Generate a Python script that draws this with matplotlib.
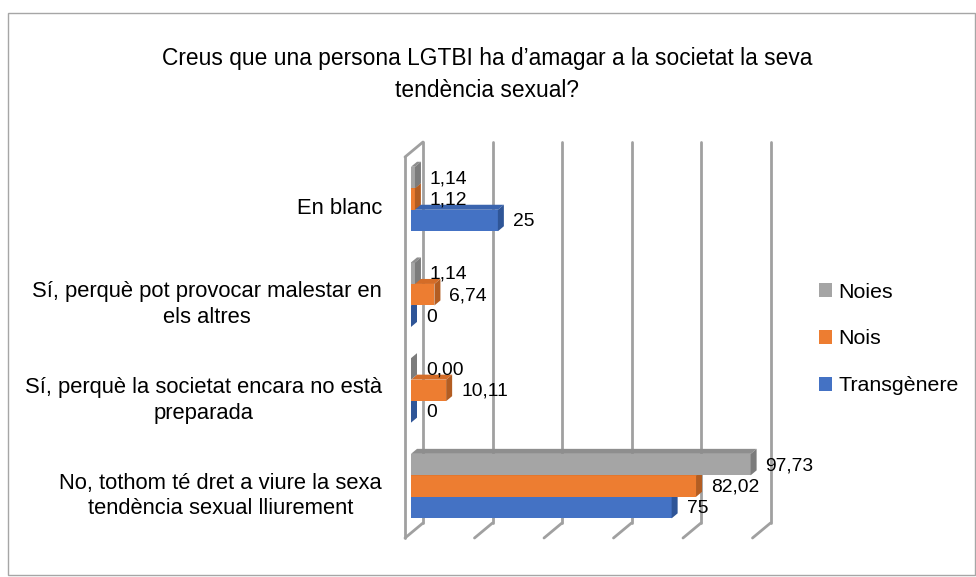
import matplotlib.pyplot as plt
from matplotlib.patches import Patch, Polygon, Rectangle

# ---------------------------------------------------------------------------
# Data (percentages)
# ---------------------------------------------------------------------------
TITLE = "Creus que una persona LGTBI ha d\u2019amagar a la societat la seva\ntendència sexual?"
categories = [
    "En blanc",
    "Sí, perquè pot provocar malestar en\nels altres",
    "Sí, perquè la societat encara no està\npreparada",
    "No, tothom té dret a viure la sexa\ntendència sexual lliurement",
]
series_names = ["Noies", "Nois", "Transgènere"]
noies = [1.14, 1.14, 0.00, 97.73]
nois = [1.12, 6.74, 10.11, 82.02]
transgenere = [25, 0, 0, 75]
value_labels = [
    ["1,14", "1,14", "0,00", "97,73"],
    ["1,12", "6,74", "10,11", "82,02"],
    ["25", "0", "0", "75"],
]
grid_ticks = [0, 20, 40, 60, 80, 100]

front_colors = ["#A5A5A5", "#ED7D31", "#4472C4"]
side_colors = ["#7C7C7C", "#B35D22", "#2F5597"]
top_colors = ["#8E8E8E", "#D46C27", "#3A64AE"]

# ---------------------------------------------------------------------------
# Geometry (pixel sizes converted to data units)
# ---------------------------------------------------------------------------
W, H = 976, 577
PX_X = 3.475          # pixels per percentage point
PX_Y = 95.7           # pixels per category step
BAR_H = 21.5 / PX_Y
DX, DY = 6 / PX_X, 5 / PX_Y          # bar depth (3D look)
WALL_DX = 12 / PX_X                  # back wall offset from bar front
FLOOR_DX, FLOOR_DY = 18 / PX_X, 15 / PX_Y

plt.rcParams["font.family"] = ["Liberation Sans", "DejaVu Sans"]

fig = plt.figure(figsize=(W / 100, H / 100), dpi=100)
fig.patches.append(Rectangle((8 / W, 1 - 575 / H), 967 / W, 562 / H,
                             transform=fig.transFigure, fill=False,
                             edgecolor="#A6A6A6", linewidth=1.0))

ax_left, ax_right, ax_top, ax_bot = 395, 800, 130, 550
ax = fig.add_axes([ax_left / W, 1 - ax_bot / H, (ax_right - ax_left) / W, (ax_bot - ax_top) / H])
ax.set_xlim((ax_left - 411) / PX_X, (ax_right - 411) / PX_X)
ax.set_ylim((ax_bot - 199) / PX_Y, (ax_top - 199) / PX_Y)
ax.axis("off")

# back wall gridlines + floor
grid_top = (142 - 199) / PX_Y
grid_bot = (523 - 199) / PX_Y
gkw = dict(color="#A0A0A0", linewidth=2.0, solid_capstyle="round", zorder=1)
for t in grid_ticks:
    xb = t + WALL_DX
    ax.plot([xb, xb], [grid_top, grid_bot], **gkw)
    ax.plot([xb, xb - FLOOR_DX], [grid_bot, grid_bot + FLOOR_DY], **gkw)
# left side wall
ax.plot([WALL_DX - FLOOR_DX, WALL_DX - FLOOR_DX],
        [grid_top + FLOOR_DY, grid_bot + FLOOR_DY], **gkw)
ax.plot([WALL_DX - FLOOR_DX, WALL_DX], [grid_top + FLOOR_DY, grid_top], **gkw)

# bars: series 0 on top, series 2 at bottom of each group
series = [noies, nois, transgenere]
offsets = [-BAR_H, 0, BAR_H]
for s in [2, 1, 0]:
    vals = series[s]
    for i, v in enumerate(vals):
        yc = i + offsets[s]
        y0, y1 = yc - BAR_H / 2, yc + BAR_H / 2
        ax.barh(yc, v, height=BAR_H, left=0, color=front_colors[s], zorder=3 + (2 - s))
        top = Polygon([(0, y0), (v, y0), (v + DX, y0 - DY), (DX, y0 - DY)],
                      closed=True, facecolor=top_colors[s], edgecolor="none",
                      zorder=3 + (2 - s))
        side = Polygon([(v, y0), (v, y1), (v + DX, y1 - DY), (v + DX, y0 - DY)],
                       closed=True, facecolor=side_colors[s], edgecolor="none",
                       zorder=3 + (2 - s))
        ax.add_patch(top)
        ax.add_patch(side)
        ax.text(v + DX + 9 / PX_X, yc + 1 / PX_Y, value_labels[s][i], ha="left",
                va="center", fontsize=13.9, color="#000000", zorder=10)

# category labels
for i, c in enumerate(categories):
    ax.text((382 - 411) / PX_X, i + 10 / PX_Y, c, ha="right", va="center",
            multialignment="center", fontsize=15.8, linespacing=1.3,
            color="#000000", clip_on=False)

fig.text(487 / W, 1 - 74.5 / H, TITLE, ha="center", va="center", fontsize=16.4,
         linespacing=1.5, color="#000000")

handles = [Patch(facecolor=c, edgecolor="none") for c in front_colors]
fig.legend(handles, series_names, loc="center left",
           bbox_to_anchor=(819 / W, 1 - 339 / H), frameon=False, fontsize=15.4,
           borderpad=0, borderaxespad=0, handlelength=0.62, handleheight=0.62,
           handletextpad=0.3, labelspacing=1.3)

fig.savefig("out.png", dpi=100)
